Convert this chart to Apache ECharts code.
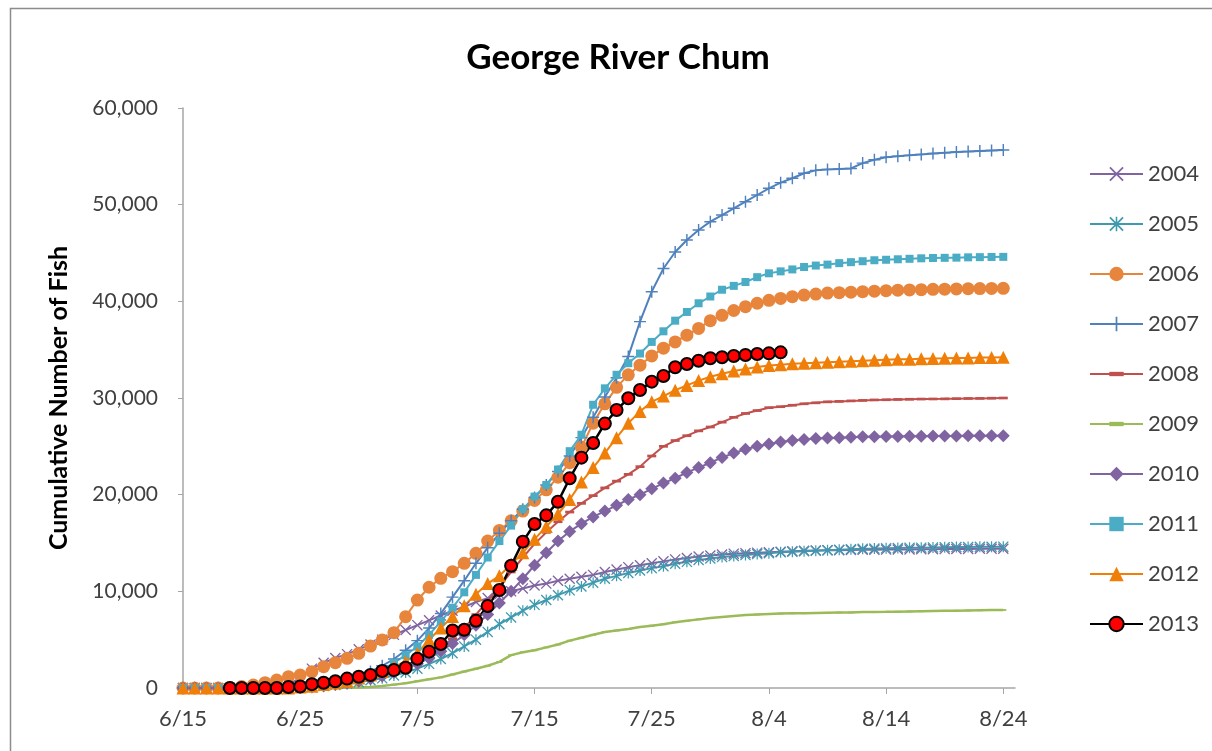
<!DOCTYPE html>
<html>
<head>
<meta charset="utf-8">
<script src="https://cdn.jsdelivr.net/npm/echarts@6/dist/echarts.min.js"></script>
<style>
html,body{margin:0;padding:0;background:#fff;}
#chart{width:1212px;height:751px;}
</style>
</head>
<body>
<div id="chart"></div>
<script>
// Day categories (6/15 .. 8/25)
const categories = [
 '6/15','6/16','6/17','6/18','6/19','6/20','6/21','6/22','6/23','6/24','6/25','6/26','6/27','6/28','6/29','6/30',
 '7/1','7/2','7/3','7/4','7/5','7/6','7/7','7/8','7/9','7/10','7/11','7/12','7/13','7/14','7/15','7/16','7/17','7/18','7/19','7/20',
 '7/21','7/22','7/23','7/24','7/25','7/26','7/27','7/28','7/29','7/30','7/31',
 '8/1','8/2','8/3','8/4','8/5','8/6','8/7','8/8','8/9','8/10','8/11','8/12','8/13','8/14','8/15','8/16','8/17','8/18','8/19','8/20',
 '8/21','8/22','8/23','8/24','8/25'
];
const seriesNames = ['2004','2005','2006','2007','2008','2009','2010','2011','2012','2013'];

const y2004 = [0,0,0,0,0,0,0,0,100,400,
 1000,2000,2600,3100,3500,4000,4500,5000,5500,6000,
 6500,7000,7500,8000,8400,8900,9300,9700,10000,10300,
 10600,10800,11100,11300,11500,11700,12000,12250,12500,12700,
 12900,13100,13300,13450,13600,13700,13800,13900,13950,14000,
 14050,14100,14150,14200,14220,14240,14260,14280,14300,14310,
 14320,14330,14340,14350,14360,14370,14380,14390,14400,14400,
 14400];
const y2005 = [0,0,0,0,0,0,0,0,0,0,
 50,100,200,300,450,600,800,1000,1300,1600,
 2000,2500,3000,3600,4300,5000,5800,6600,7300,8000,
 8600,9100,9600,10100,10500,10900,11300,11600,11900,12150,
 12400,12600,12850,13050,13250,13400,13550,13650,13750,13850,
 13950,14050,14100,14150,14200,14250,14300,14350,14400,14420,
 14450,14480,14500,14520,14540,14560,14580,14590,14600,14610,
 14620];
const y2006 = [0,0,0,0,50,150,300,550,830,1170,
 1340,1690,2210,2620,3070,3590,4340,4970,5720,7380,
 9100,10420,11350,12030,12900,13930,15200,16300,17300,18300,
 19400,20500,21800,23300,24900,27400,29400,31100,32400,33400,
 34350,35150,35800,36500,37200,38000,38550,39050,39450,39800,
 40100,40300,40480,40650,40750,40850,40900,40950,41000,41050,
 41100,41150,41180,41210,41240,41260,41280,41300,41320,41340,
 41350];
const y2007 = [0,0,0,0,0,0,0,0,0,50,
 100,250,400,600,900,1200,1700,2300,3000,3900,
 4900,6200,7700,9400,11100,12900,14500,16000,17300,18500,
 19700,21000,22400,24000,25900,28000,30100,32100,34300,37900,
 41000,43400,45100,46350,47380,48240,48930,49620,50310,51000,
 51690,52280,52730,53250,53550,53650,53700,53750,54300,54650,
 54900,55000,55100,55200,55300,55380,55450,55500,55560,55610,
 55650];
const y2008 = [0,0,0,0,0,0,0,0,0,0,
 50,100,200,300,450,650,900,1200,1600,2100,
 2700,3400,4200,5100,6200,7600,9000,10500,12000,13500,
 14900,16100,17200,18200,19100,19900,20700,21400,22100,22900,
 24000,25000,25600,26100,26600,27000,27500,28000,28400,28700,
 29000,29100,29250,29400,29500,29600,29650,29700,29750,29800,
 29820,29850,29870,29890,29900,29910,29930,29950,29960,29980,
 30000];
const y2009 = [0,0,0,0,0,0,0,0,0,0,
 0,0,0,0,20,50,100,200,350,500,
 700,900,1100,1400,1700,2000,2300,2700,3400,3700,
 3900,4200,4500,4900,5200,5500,5800,5950,6100,6300,
 6450,6600,6800,6950,7100,7250,7350,7450,7550,7600,
 7650,7700,7720,7740,7760,7780,7800,7820,7850,7870,
 7880,7900,7920,7940,7960,7980,8000,8020,8040,8060,
 8070];
const y2010 = [0,0,0,0,0,0,0,0,0,0,
 50,100,200,350,500,700,950,1250,1600,2000,
 2500,3100,3800,4600,5500,6500,7600,8800,10000,11300,
 12700,14000,15200,16200,17000,17700,18300,18900,19500,20000,
 20600,21200,21700,22300,22800,23300,23850,24300,24700,25000,
 25250,25450,25600,25700,25800,25850,25900,25950,25980,26000,
 26020,26030,26040,26050,26060,26070,26080,26090,26095,26100,
 26100];
const y2011 = [0,0,0,0,0,0,0,0,0,50,
 100,200,350,500,700,1000,1400,1900,2600,3400,
 4300,5500,6900,8300,9900,11700,13500,15200,16800,18500,
 19800,21000,22600,24500,26200,29300,31000,32400,33600,34600,
 35800,36900,38000,38900,39800,40500,41200,41600,42000,42500,
 42900,43100,43300,43550,43700,43800,43950,44050,44150,44250,
 44300,44350,44400,44450,44480,44500,44520,44550,44570,44590,
 44600];
const y2012 = [0,0,0,0,0,0,0,0,0,0,
 100,170,350,520,700,1030,1340,1700,2200,2720,
 3590,5000,6200,7400,8500,9700,10800,11600,12800,14000,
 15400,16700,18000,19500,21300,22800,24300,25900,27400,28600,
 29600,30200,30800,31300,31800,32200,32500,32800,33000,33200,
 33350,33450,33550,33600,33650,33700,33750,33800,33850,33900,
 33950,34000,34020,34050,34080,34100,34130,34150,34180,34200,
 34220];
const y2013 = [null,null,null,null,0,0,0,0,0,100,
 150,400,550,700,970,1170,1340,1760,1850,2100,
 3030,3760,4550,5950,6030,6960,8480,10140,12650,15140,
 16970,17860,19270,21690,23830,25350,27350,28760,29970,30830,
 31690,32280,33180,33520,33860,34110,34210,34340,34450,34550,
 34620,34720];

const yTicks = [0,10000,20000,30000,40000,50000,60000];

const FONT = 'Lato, "Open Sans", sans-serif';
const PLUS = 'path://M4.4,0H5.6V4.4H10V5.6H5.6V10H4.4V5.6H0V4.4H4.4Z';
const XMARK = 'path://M0,0.85L0.85,0L10,9.15L9.15,10Z M10,0.85L0.85,10L0,9.15L9.15,0Z';
const STAR = 'path://M0,0.85L0.85,0L10,9.15L9.15,10Z M10,0.85L0.85,10L0,9.15L9.15,0Z M4.45,0H5.55V10H4.45Z';
const DASH = 'path://M0,0M0,3.5H10V6.5H0Z M10,10';

const styles = {
  '2004': {color:'#8064A2', symbol:XMARK, size:11, width:2},
  '2005': {color:'#3F9AAF', symbol:STAR, size:11, width:2},
  '2006': {color:'#E8853D', symbol:'circle', size:13, width:2},
  '2007': {color:'#4F81BD', symbol:PLUS, size:12, width:2},
  '2008': {color:'#C0504D', symbol:DASH, size:9, width:2},
  '2009': {color:'#9BBB59', symbol:DASH, size:6, width:2.5},
  '2010': {color:'#8064A2', symbol:'diamond', size:13, width:2},
  '2011': {color:'#4BACC6', symbol:'rect', size:8, width:2},
  '2012': {color:'#F07F09', symbol:'triangle', size:13, width:2},
  '2013': {color:'#000000', symbol:'circle', size:12, width:2.5}
};
const dataMap = {'2004':y2004,'2005':y2005,'2006':y2006,'2007':y2007,'2008':y2008,
  '2009':y2009,'2010':y2010,'2011':y2011,'2012':y2012,'2013':y2013};

const series = seriesNames.map(n => {
  const s = styles[n];
  const item = n === '2013'
    ? {color:'#FF0000', borderColor:'#000000', borderWidth:2}
    : {color:s.color, borderWidth:0};
  return {
    name:n, type:'line', data:dataMap[n],
    symbol:s.symbol, symbolSize:s.size, showSymbol:true, showAllSymbol:true,
    lineStyle:{color:s.color, width:s.width},
    itemStyle:item,
    connectNulls:false,
    emphasis:{disabled:true}
  };
});

const chart = echarts.init(document.getElementById('chart'), null, {renderer:'canvas'});
chart.setOption({
  animation:false,
  backgroundColor:'#ffffff',
  title:{
    text:'George River Chum', left:613, top:35, textAlign:'center',
    textStyle:{fontFamily:FONT, fontSize:35, fontWeight:'bold', color:'#000'}
  },
  graphic:[{
    type:'rect', shape:{x:10.5, y:8.5, width:1400, height:900},
    style:{fill:'none', stroke:'#8c8c8c', lineWidth:1.5}, silent:true, z:-1
  }],
  legend:{
    orient:'vertical', left:1084, top:156,
    itemWidth:53, itemHeight:18, itemGap:24,
    textStyle:{fontFamily:FONT, fontSize:22, lineHeight:26, color:'#404040'},
    data:seriesNames
  },
  grid:{left:183, right:197, top:108, bottom:63, containLabel:false},
  xAxis:{
    type:'category', data:categories, boundaryGap:false,
    axisLine:{lineStyle:{color:'#A6A6A6', width:1.5}},
    axisTick:{show:true, interval:9, length:6, lineStyle:{color:'#A6A6A6'}},
    axisLabel:{interval:9, margin:20, fontFamily:FONT, fontSize:22, color:'#404040'},
    splitLine:{show:false}
  },
  yAxis:{
    type:'value', min:0, max:60000, interval:10000,
    name:'Cumulative Number of Fish', nameLocation:'middle', nameGap:112,
    nameTextStyle:{fontFamily:FONT, fontSize:25, fontWeight:'bold', color:'#000'},
    axisLine:{show:true, lineStyle:{color:'#A6A6A6', width:1.5}},
    axisTick:{show:true, length:5, lineStyle:{color:'#A6A6A6'}},
    axisLabel:{margin:25, fontFamily:FONT, fontSize:21, color:'#404040',
      formatter: v => v.toLocaleString('en-US')},
    splitLine:{show:false}
  },
  series:series
});
</script>
</body>
</html>
